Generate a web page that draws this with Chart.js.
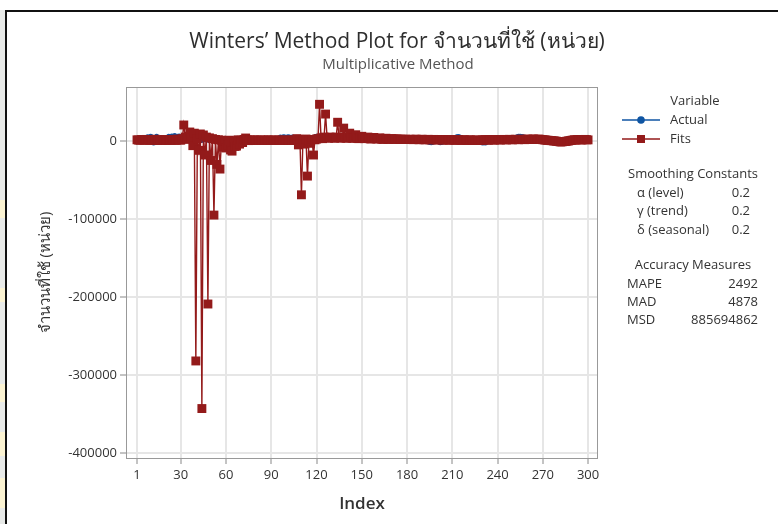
<!DOCTYPE html>
<html>
<head>
<meta charset="utf-8">
<script src="https://cdn.jsdelivr.net/npm/chart.js"></script>
<style>
  body { margin: 0; background: #fff; }
  canvas { display: block; }
</style>
</head>
<body>
<canvas id="winters-chart" width="778" height="524"></canvas>
<script>
// values, index 1..300
const actualData = [
  800, 1500, 300, 2000, 1200, 500, 3500, 5500, 4000, 6000,
  5000, -2500, 4500, 6000, -2000, 1500, 4000, 1000, 2000, 2500,
  3000, 6000, 5500, 6500, 6000, 7000, 5500, 6000, 6500, 5000,
  6000, 7000, 5500, 6000, 3000, 2000, 5000, 1500, 4000, 2500,
  1000, 3000, 2000, 500, 2500, 1500, 3000, 1000, 2000, 500,
  1500, 2500, 1000, 2000, 500, 1500, 1000, 2500, 1500, 500,
  -1000, 1000, -2000, -1500, 500, 1000, -1000, 2000, 0, 1500,
  1000, 2000, 2500, 1500, 1000, 2000, 1500, 1000, 2500, 1500,
  1000, 2000, 1500, 1000, 2000, 1500, 1000, 2500, 1500, 1000,
  2000, 1500, 2500, 1000, 3000, 5000, 4500, 5500, 5000, 4000,
  5500, 5000, 4500, 5000, 3000, 4000, 2000, 1000, 1500, 500,
  1000, 2000, 1500, 1000, 2000, 1500, 2500, 3000, 5500, 6000,
  5000, 6500, 5500, 6000, 5500, 6000, 6500, 5000, 3000, 2500,
  2000, 3000, 2500, 2000, 3000, 2500, 2000, 3000, 2500, 2000,
  3000, 2500, 2000, 3000, 2500, 2000, 2500, 3000, 2000, 2500,
  2000, 2500, 3000, 2000, 2500, 2000, 3000, 2500, 2000, 2500,
  3000, 2000, 2500, 2000, 3000, 2500, 2000, 2500, 3000, 2000,
  2500, 2000, 3000, 2500, 2000, 2500, 1500, 2000, 2500, 1500,
  2000, 2500, 1500, 2000, 1500, 2500, 2000, 1500, 2000, 2500,
  1500, 2000, 1500, 0, -1800, -2300, -1500, 500, 1500, 2000,
  1000, -2200, -1800, 1000, 2000, 1500, 2500, 3000, 1500, 2000,
  3000, 4000, 5500, 5800, 5200, 4500, 3000, 2000, 1500, 2000,
  1500, 2500, 2000, 1500, 2500, 2000, 1000, -500, -2000, -2600,
  -2200, -2500, -1200, 1000, 2000, 1500, 2500, 2000, 1500, 2500,
  2000, 1500, 2500, 2000, 1500, 2500, 3000, 2000, 1500, 2500,
  3000, 4500, 5500, 6000, 6200, 5800, 5500, 4000, 2000, 2500,
  2000, 1500, 2500, 2000, 1500, 2500, 2000, 1500, 2000, 2500,
  2000, 1500, 1200, 600, 100, -700, -900, -1600, -2100, -2400,
  -3100, -2600, -1800, -1500, -900, -600, 200, 400, 1100, 1500,
  2000, 1500, 2500, 2000, 1500, 2000, 2500, 2000, 1500, 2000
];
const fitsData = [
  1500, 1200, 900, 1800, 1400, 1000, 2000, 1300, 800, 1700,
  1200, 900, 2200, 1100, 600, 1500, 1000, 800, 1900, 1200,
  700, 1600, 1100, 900, 2100, 1300, 800, 2400, 1500, 1000,
  3000, 20500, 5000, 2000, 6000, 11500, 4000, -6000, 10000, -282000,
  3000, -12000, 9000, -343000, 7700, -18000, 5000, -209000, 4000, -25000,
  3000, -95000, 2000, -30000, 1500, -36000, 1000, -8000, 500, -9000,
  -5000, 1000, -11500, -13000, 500, -7000, -6500, 1500, -4000, 1000,
  -2000, 2000, 3800, 1500, 500, 1200, 800, 1000, 1400, 900,
  1100, 700, 1300, 900, 1200, 600, 1000, 1400, 800, 1100,
  900, 1200, 700, 1000, 1300, 800, 1100, 600, 1200, 900,
  1000, 800, 1300, 700, 1100, 900, 3000, -5000, 2000, -69000,
  1500, -4000, 2500, -45000, 1000, -3000, 2000, -18000, 1500, 2500,
  3000, 47000, 4000, 3000, 5000, 34500, 4500, 3500, 5000, 4000,
  4500, 3500, 5000, 24000, 4500, 3500, 5000, 16500, 4000, 3500,
  4500, 10000, 4000, 3500, 4000, 8000, 3500, 3000, 4000, 6000,
  3500, 3000, 3500, 5000, 3000, 2500, 3500, 4500, 3000, 2500,
  3000, 4000, 2500, 2000, 3000, 3500, 2500, 2000, 2500, 3000,
  2500, 2200, 2600, 2300, 2000, 2400, 2100, 1900, 2300, 2000,
  1800, 2200, 1900, 1700, 2100, 2300, 1800, 1600, 2000, 2200,
  1700, 1500, 1900, 2100, 1600, 1400, 1800, 2000, 1500, 1300,
  1700, 1900, 1400, 1200, 1600, 1800, 1300, 1100, 1500, 1700,
  1200, 1000, 1400, 1600, 1100, 900, 1300, 1500, 1000, 800,
  1200, 1400, 900, 700, 1100, 1300, 800, 600, 1000, 1200,
  1500, 1700, 1300, 1100, 1600, 1800, 1400, 1200, 1700, 1900,
  1500, 1300, 1800, 2000, 1600, 1400, 1900, 2100, 1700, 1500,
  2000, 2200, 1800, 1600, 2100, 2300, 1900, 1700, 2200, 2400,
  2000, 1800, 2300, 2500, 2100, 1900, 2400, 2200, 1800, 1600,
  1400, 1200, 900, 800, 500, 400, 100, 0, -300, -700,
  -900, -1300, -1000, -700, -600, -200, 0, 500, 800, 1200,
  1500, 1300, 1700, 1900, 1500, 1300, 1800, 2000, 1600, 1400
];
const xTickValues = [1, 30, 60, 90, 120, 150, 180, 210, 240, 270, 300];
const yTickValues = [-400000, -300000, -200000, -100000, 0];
const seriesNames = ['Actual', 'Fits'];
const smoothingLabels = ['α (level)', 'γ (trend)', 'δ (seasonal)'];
const smoothingValues = ['0.2', '0.2', '0.2'];
const accuracyLabels = ['MAPE', 'MAD', 'MSD'];
const accuracyValues = ['2492', '4878', '885694862'];

const FONT = '"Open Sans", "Noto Sans", sans-serif';
const BLUE = '#0f55a3';
const RED = '#931a1a';
const TEXT = '#333';

function toPoints(arr) {
    return arr.map((v, i) => ({ x: i + 1, y: v }));
}

function label(c, s, x, y, align, size, color, weight) {
    c.font = (weight || 'normal') + ' ' + size + 'px ' + FONT;
    c.fillStyle = color || TEXT;
    c.textAlign = align;
    c.textBaseline = 'middle';
    c.fillText(s, x, y);
}

const pageDecor = {
    id: 'pageDecor',
    beforeDraw(chart) {
        const c = chart.ctx;
        c.save();
        c.fillStyle = '#fff';
        c.fillRect(0, 0, chart.width, chart.height);
        // screenshot edge on the left
        c.fillStyle = '#e8eae8';
        c.fillRect(0, 10, 5, chart.height);
        c.fillStyle = '#fbf3d2';
        [[200, 18], [288, 14], [384, 18], [432, 24], [478, 30]].forEach(b => c.fillRect(0, b[0], 5, b[1]));
        c.fillStyle = '#111';
        c.fillRect(5, 10, chart.width, 2);
        c.fillRect(5, 10, 2, chart.height);
        c.restore();
    },
    afterDraw(chart) {
        const c = chart.ctx;
        const a = chart.chartArea;
        c.save();
        c.strokeStyle = '#999';
        c.lineWidth = 1;
        c.strokeRect(a.left + 0.5, a.top + 0.5, a.right - a.left - 1, a.bottom - a.top);

        label(c, 'Winters’ Method Plot for จำนวนที่ใช้ (หน่วย)', 397, 42, 'center', 21, '#2e2e2e');
        label(c, 'Multiplicative Method', 398, 65, 'center', 15, '#555');

        // legend
        label(c, 'Variable', 695, 101, 'center', 13, TEXT);
        const rows = [120, 139];
        c.lineWidth = 1.5;
        c.strokeStyle = BLUE;
        c.beginPath(); c.moveTo(622, rows[0]); c.lineTo(660, rows[0]); c.stroke();
        c.fillStyle = BLUE;
        c.beginPath(); c.arc(641, rows[0], 3.8, 0, Math.PI * 2); c.fill();
        c.strokeStyle = RED;
        c.beginPath(); c.moveTo(622, rows[1]); c.lineTo(660, rows[1]); c.stroke();
        c.fillStyle = RED;
        c.fillRect(637, rows[1] - 4, 8, 8);
        seriesNames.forEach((n, i) => label(c, n, 670, rows[i], 'left', 13, TEXT));

        label(c, 'Smoothing Constants', 693, 174, 'center', 13, TEXT);
        smoothingLabels.forEach((s, i) => {
            label(c, s, 637, 193 + i * 18.5, 'left', 13, TEXT);
            label(c, smoothingValues[i], 750, 193 + i * 18.5, 'right', 13, TEXT);
        });
        label(c, 'Accuracy Measures', 693, 265, 'center', 13, TEXT);
        accuracyLabels.forEach((s, i) => {
            label(c, s, 627, 284 + i * 18, 'left', 13, TEXT);
            label(c, accuracyValues[i], 758, 284 + i * 18, 'right', 13, TEXT);
        });
        c.restore();
    }
};

const ctx = document.getElementById('winters-chart');

new Chart(ctx, {
    type: 'line',
    data: {
        datasets: [{
            label: seriesNames[0],
            data: toPoints(actualData),
            borderColor: BLUE,
            backgroundColor: BLUE,
            borderWidth: 1,
            pointStyle: 'circle',
            pointRadius: 2.5,
            pointBorderWidth: 0,
            order: 2
        }, {
            label: seriesNames[1],
            data: toPoints(fitsData),
            borderColor: RED,
            backgroundColor: RED,
            borderWidth: 1.4,
            pointStyle: 'rect',
            pointRadius: 6.3,
            pointBorderWidth: 0,
            order: 1
        }]
    },
    options: {
        responsive: false,
        animation: false,
        layout: { padding: { top: 87, right: 180, left: 0, bottom: 0 } },
        plugins: {
            legend: { display: false },
            tooltip: { enabled: false }
        },
        scales: {
            x: {
                type: 'linear',
                min: -6.3,
                max: 306.6,
                afterFit: s => { s.height = 66; },
                afterBuildTicks: s => { s.ticks = xTickValues.map(v => ({ value: v })); },
                grid: { color: '#e6e6e6', lineWidth: 2, tickLength: 6, tickColor: '#888', tickWidth: 1 },
                border: { display: false },
                ticks: {
                    padding: 3,
                    maxRotation: 0,
                    autoSkip: false,
                    color: TEXT,
                    font: { family: FONT, size: 13 },
                    callback: v => String(v)
                },
                title: {
                    display: true,
                    text: 'Index',
                    color: TEXT,
                    font: { family: FONT, size: 17, weight: '600' },
                    padding: { top: 0, bottom: 10 }
                }
            },
            y: {
                min: -406400,
                max: 69200,
                afterFit: s => { s.width = 126; },
                afterBuildTicks: s => { s.ticks = yTickValues.map(v => ({ value: v })); },
                grid: { color: '#e6e6e6', lineWidth: 2, tickLength: 6, tickColor: '#888', tickWidth: 1 },
                border: { display: false },
                ticks: {
                    padding: 3,
                    color: TEXT,
                    font: { family: FONT, size: 13 },
                    callback: v => String(v)
                },
                title: {
                    display: true,
                    text: 'จำนวนที่ใช้ (หน่วย)',
                    color: TEXT,
                    font: { family: FONT, size: 15 },
                    padding: { top: 37, bottom: 0 }
                }
            }
        }
    },
    plugins: [pageDecor]
});
</script>
</body>
</html>
